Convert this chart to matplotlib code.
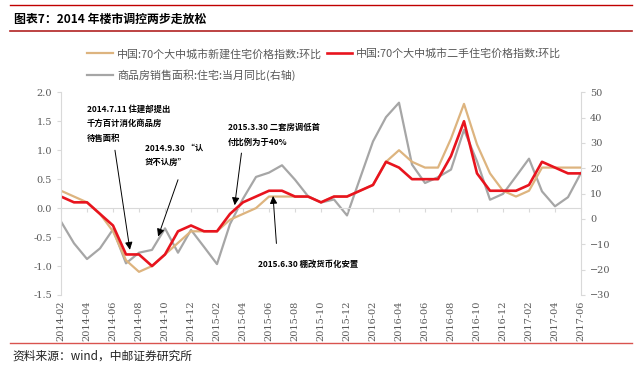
import matplotlib
matplotlib.use("Agg")
import matplotlib.pyplot as plt
import numpy as np
import pandas as pd
from matplotlib.lines import Line2D
from matplotlib.ticker import MultipleLocator, FormatStrFormatter

plt.rcParams['font.family'] = ['Noto Sans CJK SC', 'DejaVu Sans']

# 月份 2014-02 ~ 2017-06
months = [p.strftime('%Y-%m') for p in pd.period_range('2014-02', '2017-06', freq='M')]

# 中国:70个大中城市新建住宅价格指数:环比
new_home = [0.3, 0.2, 0.1, -0.1, -0.4, -0.9, -1.1, -1.0, -0.8, -0.6,
            -0.4, -0.4, -0.4, -0.2, -0.1, 0.0, 0.2, 0.2, 0.2, 0.2,
            0.1, 0.2, 0.2, 0.3, 0.4, 0.8, 1.0, 0.8, 0.7, 0.7,
            1.2, 1.8, 1.1, 0.6, 0.3, 0.2, 0.3, 0.7, 0.7, 0.7, 0.7]

# 中国:70个大中城市二手住宅价格指数:环比
second_home = [0.2, 0.1, 0.1, -0.1, -0.3, -0.8, -0.8, -1.0, -0.8, -0.4,
               -0.3, -0.4, -0.4, -0.1, 0.1, 0.2, 0.3, 0.3, 0.2, 0.2,
               0.1, 0.2, 0.2, 0.3, 0.4, 0.8, 0.7, 0.5, 0.5, 0.5,
               0.9, 1.5, 0.6, 0.3, 0.3, 0.3, 0.4, 0.8, 0.7, 0.6, 0.6]

# 商品房销售面积:住宅:当月同比(右轴)
sales_area = [-1, -9.6, -15.8, -11.6, -4.1, -17.5, -13.3, -12.2, -3.7, -13.3,
              -4.3, -11, -17.8, -2, 8, 16.6, 18.3, 21.2, 15.5, 9,
              6.5, 7.7, 1.4, 16, 30.6, 40.2, 45.9, 21.5, 14.2, 16.5,
              19.5, 35.2, 22.8, 7.6, 9.9, 16.8, 23.8, 10.9, 5, 8.6, 18.2]

c_tan = '#DDB47F'
c_red = '#E8141E'
c_gray = '#A6A6A6'
c_axis = '#D9D9D9'
c_text = '#595959'

fig = plt.figure(figsize=(6.4, 3.76), dpi=100)
ax = fig.add_axes([61/640, 1-295/376, 520/640, (295-92.3)/376])
ax2 = ax.twinx()

x = np.arange(len(months))

l_gray, = ax2.plot(x, sales_area, color=c_gray, lw=1.6)
l_tan, = ax.plot(x, new_home, color=c_tan, lw=1.6)
l_red, = ax.plot(x, second_home, color=c_red, lw=1.9)
ax.set_zorder(ax2.get_zorder() + 1)
ax.patch.set_visible(False)

ax.set_xlim(0, len(months) - 1)
ax.set_ylim(-1.5, 2.0)
ax2.set_ylim(-30, 50)
ax.yaxis.set_major_locator(MultipleLocator(0.5))
ax.yaxis.set_major_formatter(FormatStrFormatter('%.1f'))
ax2.yaxis.set_major_locator(MultipleLocator(10))

for a in (ax, ax2):
    for s in a.spines.values():
        s.set_visible(False)
ax.spines['left'].set_visible(True)
ax.spines['left'].set_color(c_axis)
ax2.spines['right'].set_visible(True)
ax2.spines['right'].set_color(c_axis)

tick_font = dict(family='DejaVu Serif', size=7)
ax.tick_params(axis='y', colors=c_axis, labelcolor=c_text, length=3, width=0.8)
ax2.tick_params(axis='y', colors=c_axis, labelcolor=c_text, length=3, width=0.8)
for lab in ax.get_yticklabels() + ax2.get_yticklabels():
    lab.set_fontfamily('DejaVu Serif')
    lab.set_fontsize(7)

# x 轴标签在底部
ax.set_xticks(x[::2])
ax.set_xticklabels(months[::2], rotation=90, color=c_text, **tick_font)
ax.tick_params(axis='x', length=0, pad=4)

# 零轴线和刻度
zero_pos = (0 - (-1.5)) / 3.5
sec = ax.secondary_xaxis(zero_pos)
sec.set_xticks(x[::2])
sec.set_xticklabels([])
sec.tick_params(axis='x', direction='out', length=3, width=0.8, colors=c_axis)
sec.spines['bottom'].set_color(c_axis)
sec.spines['bottom'].set_linewidth(0.8)

# 注释
ann_font = dict(fontsize=6, fontweight='bold', color='black')
arrow = dict(arrowstyle='-|>,head_length=0.45,head_width=0.22', color='black',
             lw=0.7, shrinkA=0, shrinkB=0)
ax.text(1.97, 1.78, '2014.7.11 住建部提出\n千方百计消化商品房\n待售面积',
        ha='left', va='top', linespacing=1.75, **ann_font)
ax.annotate('', xy=(5.3, -0.72), xytext=(4.15, 1.0), arrowprops=arrow)
ax.text(6.45, 1.12, '2014.9.30 “认\n贷不认房”',
        ha='left', va='top', linespacing=1.75, **ann_font)
ax.annotate('', xy=(7.47, -0.49), xytext=(9.0, 0.49), arrowprops=arrow)
ax.text(12.85, 1.47, '2015.3.30 二套房调低首\n付比例为于40%',
        ha='left', va='top', linespacing=1.8, **ann_font)
ax.annotate('', xy=(13.36, 0.05), xytext=(13.88, 0.95), arrowprops=arrow)
ax.text(15.15, -0.965, '2015.6.30 棚改货币化安置',
        ha='left', va='center', **ann_font)
ax.annotate('', xy=(16.31, 0.21), xytext=(16.57, -0.61), arrowprops=arrow)

# 图例
fig.legend([l_tan, l_gray, l_red],
           ['中国:70个大中城市新建住宅价格指数:环比',
            '商品房销售面积:住宅:当月同比(右轴)',
            '中国:70个大中城市二手住宅价格指数:环比'],
           ncol=2, loc='upper left', bbox_to_anchor=(82/640, 1-43/376),
           frameon=False, fontsize=7.9, labelcolor=c_text, handlelength=2.3,
           handletextpad=0.4, columnspacing=0.4, labelspacing=0.95, borderpad=0)

# 标题栏
fig.add_artist(Line2D([10/640, 632/640], [1-5/376]*2, color='#C00000', lw=1.0))
fig.add_artist(Line2D([10/640, 632/640], [1-31/376]*2, color='#B22222', lw=1.2))
fig.text(14/640, 1-19/376, '图表7：2014 年楼市调控两步走放松',
         fontsize=8.6, fontweight='bold', va='center', ha='left')

# 底部来源
fig.add_artist(Line2D([10/640, 632/640], [1-343/376]*2, color='#D9534F', lw=1.0))
fig.text(12/640, 1-356/376, '资料来源：wind，中邮证券研究所',
         fontsize=8.5, va='center', ha='left', color='#222222')

fig.savefig('out.png', dpi=100)
